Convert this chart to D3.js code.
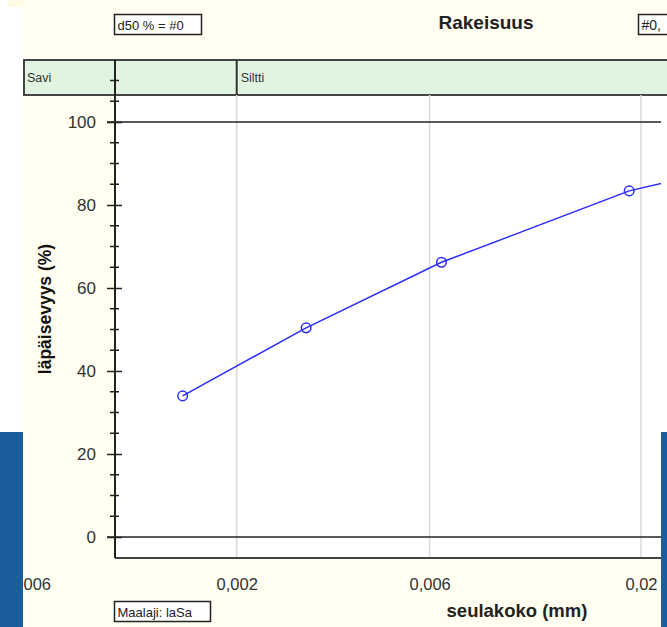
<!DOCTYPE html>
<html><head><meta charset="utf-8">
<script src="https://cdn.jsdelivr.net/npm/d3@7"></script>
<style>body{margin:0;padding:0;background:#fff}svg{display:block}</style>
</head><body>
<svg id="c" width="667" height="627"></svg>
<script>
// ---- data ----
const sieveSizes = [0.00147, 0.00297, 0.00642, 0.0187, 0.063];
const passing = [34.0, 50.4, 66.2, 83.4, 95.5];
const xTickValues = [0.0006, 0.002, 0.006, 0.02];
const xTickLabels = ["0,0006", "0,002", "0,006", "0,02"];
const yMajorTicks = [0, 20, 40, 60, 80, 100];
const yMinorTicks = [5,10,15,25,30,35,45,50,55,65,70,75,85,90,95,105,110];
const bandNames = ["Savi", "Siltti"];
const bandStarts = [null, 0.002];
const titleText = "Rakeisuus";
const xTitle = "seulakoko (mm)";
const yTitle = "läpäisevyys (%)";
const d50Text = "d50 % = #0";
const rightBoxText = "#0,";
const soilText = "Maalaji: laSa";

// ---- layout ----
const W = 667, H = 627;
const plotL = 115, plotR = 661, plotT = 95, plotB = 558;
const bandT = 60, bandB = 95, bandL = 23;

const svg = d3.select("#c");
const x = d3.scaleLog().domain([0.001, 0.02]).range([115, 641]);
const y = d3.scaleLinear().domain([0, 100]).range([537, 122]);

// backgrounds
svg.append("rect").attr("x",0).attr("y",0).attr("width",W).attr("height",H).attr("fill","#ffffff");
svg.append("rect").attr("x",bandL).attr("y",0).attr("width",W-bandL).attr("height",H).attr("fill","#fffef1");
svg.append("rect").attr("x",plotL).attr("y",plotT).attr("width",W-plotL).attr("height",plotB-plotT).attr("fill","#ffffff");

// band
svg.append("rect").attr("x",bandL+1).attr("y",bandT).attr("width",W-bandL+10).attr("height",bandB-bandT)
  .attr("fill","#e1f4e1").attr("stroke","#454545").attr("stroke-width",2);
bandNames.forEach((n,i)=>{
  const bx = bandStarts[i] === null ? bandL : x(bandStarts[i]);
  if (bandStarts[i] !== null) {
    svg.append("line").attr("x1",bx).attr("x2",bx).attr("y1",bandT).attr("y2",bandB)
      .attr("stroke","#333").attr("stroke-width",2);
  }
  svg.append("text").attr("x",bx+4).attr("y",82).attr("font-family","Arial, 'Liberation Sans', sans-serif")
    .attr("font-size",12.5).attr("fill","#333").text(n);
});

// vertical gridlines
const grid = svg.append("g");
xTickValues.filter(v=>x(v)>=plotL).forEach(v=>{
  grid.append("line").attr("x1",x(v)).attr("x2",x(v)).attr("y1",plotT).attr("y2",plotB)
    .attr("stroke","#dadada").attr("stroke-width",1.5);
});

// horizontal reference lines at 0 and 100
[0,100].forEach(v=>{
  svg.append("line").attr("x1",107).attr("x2",plotR).attr("y1",y(v)).attr("y2",y(v))
    .attr("stroke","#222").attr("stroke-width",1.5);
});

// bottom border
svg.append("line").attr("x1",plotL).attr("x2",plotR).attr("y1",plotB).attr("y2",plotB)
  .attr("stroke","#444").attr("stroke-width",2);

// y axis
const yAxis = svg.append("g").attr("transform",`translate(${plotL},0)`)
  .call(d3.axisLeft(y).tickValues(yMajorTicks).tickSize(8).tickPadding(10).tickFormat(d3.format("d")));
yAxis.select(".domain").remove();
yAxis.selectAll(".tick line").attr("x1",7).attr("x2",-8).attr("stroke","#222").attr("stroke-width",1.5);
yAxis.selectAll(".tick text").attr("x",-19).attr("font-family","Arial, 'Liberation Sans', sans-serif")
  .attr("font-size",17).attr("fill","#333");
svg.append("line").attr("x1",plotL).attr("x2",plotL).attr("y1",bandT).attr("y2",plotB)
  .attr("stroke","#222").attr("stroke-width",2);
yMinorTicks.forEach(v=>{
  svg.append("line").attr("x1",plotL-5).attr("x2",plotL+4).attr("y1",y(v)).attr("y2",y(v))
    .attr("stroke","#222").attr("stroke-width",1.5);
});

// x axis labels
const xAxis = svg.append("g").attr("transform",`translate(0,${plotB})`)
  .call(d3.axisBottom(x).tickValues(xTickValues).tickSize(0).tickPadding(0)
    .tickFormat((d,i)=>xTickLabels[i]));
xAxis.select(".domain").remove();
xAxis.selectAll(".tick text").attr("y",32).attr("dy",0).attr("font-family","Arial, 'Liberation Sans', sans-serif")
  .attr("font-size",16.5).attr("fill","#333");

// data line
svg.append("clipPath").attr("id","clip").append("rect")
  .attr("x",plotL).attr("y",plotT).attr("width",plotR-plotL).attr("height",plotB-plotT);
const pts = sieveSizes.map((s,i)=>[s,passing[i]]);
const line = d3.line().x(d=>x(d[0])).y(d=>y(d[1])).curve(d3.curveLinear);
const dg = svg.append("g").attr("clip-path","url(#clip)");
dg.append("path").datum(pts).attr("d",line).attr("fill","none").attr("stroke","#2b2bff").attr("stroke-width",1.5);
dg.selectAll("circle").data(pts).join("circle").attr("cx",d=>x(d[0])).attr("cy",d=>y(d[1])).attr("r",4.8)
  .attr("fill","none").attr("stroke","#2b2bff").attr("stroke-width",1.5);

// titles
svg.append("text").attr("x",486).attr("y",29).attr("text-anchor","middle")
  .attr("font-family","Arial, 'Liberation Sans', sans-serif").attr("font-weight","bold").attr("font-size",19)
  .attr("fill","#222").text(titleText);
svg.append("text").attr("x",517).attr("y",617).attr("text-anchor","middle")
  .attr("font-family","Arial, 'Liberation Sans', sans-serif").attr("font-weight","bold").attr("font-size",18.5)
  .attr("fill","#222").text(xTitle);
svg.append("text").attr("transform","translate(51,309) rotate(-90)").attr("text-anchor","middle")
  .attr("font-family","Arial, 'Liberation Sans', sans-serif").attr("font-weight","bold").attr("font-size",17.5)
  .attr("fill","#111").text(yTitle);

// boxes
function box(bx,by,bw,bh,t,fs){
  svg.append("rect").attr("x",bx).attr("y",by).attr("width",bw).attr("height",bh)
    .attr("fill","#ffffff").attr("stroke","#222").attr("stroke-width",1.5);
  svg.append("text").attr("x",bx+3).attr("y",by+bh-5).attr("font-family","Arial, 'Liberation Sans', sans-serif")
    .attr("font-size",fs).attr("fill","#222").text(t);
}
box(114.5,14.5,87,20,d50Text,13);
box(638.5,14.5,40,20,rightBoxText,14);
box(114.5,601.5,96,20,soilText,13);

// framing panels
svg.append("rect").attr("x",0).attr("y",0).attr("width",23).attr("height",432).attr("fill","#ffffff");
svg.append("rect").attr("x",8).attr("y",0).attr("width",15).attr("height",7).attr("fill","#fffbe2");
svg.append("rect").attr("x",0).attr("y",432).attr("width",23).attr("height",H-432).attr("fill","#1b5e9b");
svg.append("rect").attr("x",661).attr("y",432).attr("width",6).attr("height",H-432).attr("fill","#1b5e9b");
</script>
</body></html>
